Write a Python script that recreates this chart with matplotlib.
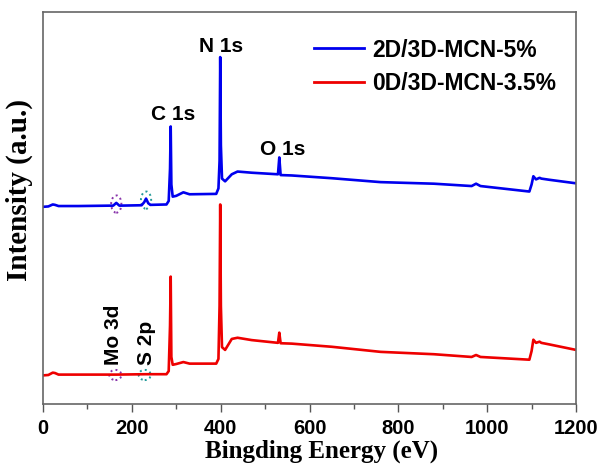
import matplotlib
matplotlib.use("Agg")
import matplotlib.pyplot as plt
from matplotlib.patches import Ellipse

# Binding energy (eV) and intensity (a.u.)
blue_E = [0, 12, 22, 27, 35, 80, 150, 158, 165, 172, 222, 228, 232, 237, 242, 278, 283, 286, 287.5, 289, 292, 300, 316, 330, 390, 395, 397.5, 399, 400.5, 403, 410, 425, 438, 470, 529, 532, 535, 560, 650, 760, 880, 965, 975, 985, 1095, 1100, 1104, 1110, 1118, 1122, 1140, 1200]
blue_I = [50.3, 50.4, 50.9, 50.8, 50.5, 50.5, 50.6, 50.6, 51.3, 50.6, 50.7, 51.5, 52.4, 51.2, 50.8, 50.9, 51.8, 60.0, 70.8, 56.0, 52.9, 53.1, 54.0, 53.5, 53.6, 55.0, 62.0, 88.5, 66.0, 57.5, 56.8, 58.6, 59.3, 59.0, 58.6, 62.9, 58.4, 58.3, 57.6, 56.6, 56.2, 55.6, 56.2, 55.6, 54.2, 56.0, 58.1, 57.3, 57.7, 57.5, 57.2, 56.3]

red_E = [0, 12, 22, 27, 35, 80, 150, 165, 232, 278, 283, 286, 287.5, 289, 292, 300, 316, 330, 390, 395, 397.5, 399, 400.5, 403, 410, 425, 438, 470, 529, 532, 535, 560, 650, 760, 880, 965, 975, 985, 1095, 1100, 1104, 1110, 1118, 1122, 1140, 1200]
red_I = [7.3, 7.4, 8.0, 7.9, 7.5, 7.5, 7.5, 7.5, 7.6, 7.6, 8.4, 20.0, 32.5, 12.0, 10.0, 10.2, 10.7, 10.3, 10.3, 11.5, 25.0, 50.9, 25.0, 14.5, 13.8, 16.6, 16.9, 16.3, 15.6, 18.2, 15.5, 15.4, 14.6, 13.3, 12.7, 12.0, 12.5, 12.0, 11.3, 13.5, 16.4, 15.6, 15.9, 15.6, 15.2, 13.8]

series_labels = ["2D/3D-MCN-5%", "0D/3D-MCN-3.5%"]
xticks = [0, 200, 400, 600, 800, 1000, 1200]

fig = plt.figure(figsize=(6.03, 4.70), dpi=100)
ax = fig.add_axes([43/603, 1-404/470, (576-43)/603, (404-12)/470])

ax.plot(blue_E, blue_I, color="#0000ee", lw=1.9, label=series_labels[0])
ax.plot(red_E, red_I, color="#ee0000", lw=1.9, label=series_labels[1])

ax.set_xlim(0, 1200)
ax.set_ylim(0, 100)
ax.set_xticks(xticks)
ax.set_xticks(range(100, 1200, 200), minor=True)
ax.set_yticks([])
ax.tick_params(axis="x", which="major", direction="out", length=6, width=1, color="#555555", pad=5)
ax.tick_params(axis="x", which="minor", direction="out", length=3.5, width=1, color="#555555")
for s in ax.spines.values():
    s.set_color("#666666")
    s.set_linewidth(1.2)

for lab in ax.get_xticklabels():
    lab.set_fontfamily("Liberation Sans")
    lab.set_fontweight("bold")
    lab.set_fontsize(14.5)

ax.set_xlabel("Bingding Energy (eV)", fontfamily="Liberation Serif", fontweight="bold", fontsize=18)
ax.xaxis.set_label_coords(0.523, -0.091)
ax.set_ylabel("Intensity (a.u.)", fontfamily="Liberation Serif", fontweight="bold", fontsize=21)
ax.yaxis.set_label_coords(-0.019, 0.546)

tkw = dict(fontfamily="Liberation Sans", fontweight="bold", fontsize=15, ha="center")
ax.text(402, 88.9, "N 1s", va="bottom", **tkw)
ax.text(294, 71.5, "C 1s", va="bottom", **tkw)
ax.text(540, 62.5, "O 1s", va="bottom", **tkw)
ax.text(159, 10.0, "Mo 3d", va="bottom", rotation=90, **tkw)
ax.text(233, 10.0, "S 2p", va="bottom", rotation=90, **tkw)

circ = [(165, 51.0, 23, 4.4, "#8833aa"), (232, 52.0, 23, 4.4, "#229999"),
        (163, 7.4, 27, 2.6, "#8833aa"), (229, 7.4, 27, 2.6, "#229999")]
for cx, cy, w, h, c in circ:
    ax.add_patch(Ellipse((cx, cy), w, h, fill=False, edgecolor=c, linestyle=":", lw=1.4))

leg = ax.legend(loc="upper right", bbox_to_anchor=(1.002, 0.985), frameon=False,
                prop=dict(family="Liberation Sans", weight="bold", size=16.5),
                handlelength=2.2, handletextpad=0.35, labelspacing=0.45, borderaxespad=0.5)
for l in leg.get_lines():
    l.set_linewidth(2)

fig.savefig("out.png", dpi=100)
